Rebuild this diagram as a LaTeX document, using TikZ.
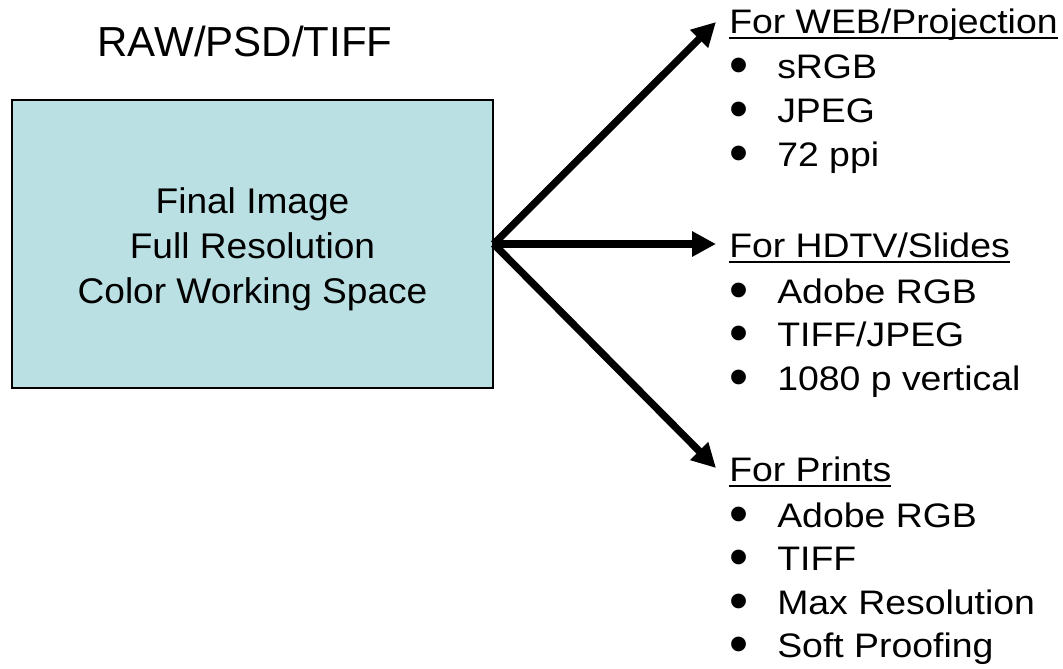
\documentclass[tikz,border=0pt]{standalone}
\usepackage{fontspec}
\setmainfont{Liberation Sans}
\newfontfamily\listfont{Liberation Sans}[FakeStretch=1.1]
\newfontfamily\boxfont{Liberation Sans}[FakeStretch=1.04]
\usetikzlibrary{arrows.meta}

\definecolor{boxcyan}{RGB}{186,224,227}

% underlined heading and bullet line
\newcommand{\headtext}[1]{\setbox0\hbox{#1}\rlap{\rule[-4.5pt]{\wd0}{1.4pt}}\box0}
\newcommand{\bulletline}[1]{\makebox[36pt][l]{\smash{\raisebox{-4pt}{\scalebox{1.6}{\rmfamily\textbullet}}}}#1}

\begin{document}
\begin{tikzpicture}[x=0.75pt, y=-0.75pt,
titletext/.style={anchor=base, inner sep=0pt, font=\fontsize{31.5}{36}\selectfont},
imagebox/.style={rectangle, draw=black, line width=1pt, fill=boxcyan, minimum width=360.75pt, minimum height=216pt, inner sep=0pt},
boxtext/.style={inner sep=0pt, align=center, font=\boxfont\fontsize{26.75}{33.75}\selectfont},
listtext/.style={anchor=base west, inner sep=0pt, font=\listfont\fontsize{25.5}{30}\selectfont},
arrowline/.style={line width=5.5pt, -{Triangle[length=18pt, width=18pt]}},]

	\useasboundingbox (0, 0) rectangle (1063, 668);

	\node (source) [titletext] at (245, 56) {RAW/PSD/TIFF};
	\node (final) [imagebox] at (252.5, 244) {};
	\node (finaltext) [boxtext] at (252.5, 249) {Final Image\\Full Resolution\\Color Working Space};

	% web output
	\node (web) [listtext] at (729, 33) {\headtext{For WEB/Projection}};
	\node (web1) [listtext] at (729, 78.5) {\bulletline{sRGB}};
	\node (web2) [listtext] at (729, 122.5) {\bulletline{JPEG}};
	\node (web3) [listtext] at (729, 166) {\bulletline{72 ppi}};

	% hdtv output
	\node (hdtv) [listtext] at (729, 257) {\headtext{For HDTV/Slides}};
	\node (hdtv1) [listtext] at (729, 303) {\bulletline{Adobe RGB}};
	\node (hdtv2) [listtext] at (729, 346.5) {\bulletline{TIFF/JPEG}};
	\node (hdtv3) [listtext] at (729, 390) {\bulletline{1080 p vertical}};

	% print output
	\node (prints) [listtext] at (729, 481) {\headtext{For Prints}};
	\node (prints1) [listtext] at (729, 527) {\bulletline{Adobe RGB}};
	\node (prints2) [listtext] at (729, 570.5) {\bulletline{TIFF}};
	\node (prints3) [listtext] at (729, 614) {\bulletline{Max Resolution}};
	\node (prints4) [listtext] at (729, 657.5) {\bulletline{Soft Proofing}};

	\coordinate (webtip) at (716, 22);
	\coordinate (hdtvtip) at (716, 244);
	\coordinate (printstip) at (716, 468);

	\draw[arrowline] (final.east) -- (webtip);
	\draw[arrowline] (final.east) -- (hdtvtip);
	\draw[arrowline] (final.east) -- (printstip);

\end{tikzpicture}
\end{document}
